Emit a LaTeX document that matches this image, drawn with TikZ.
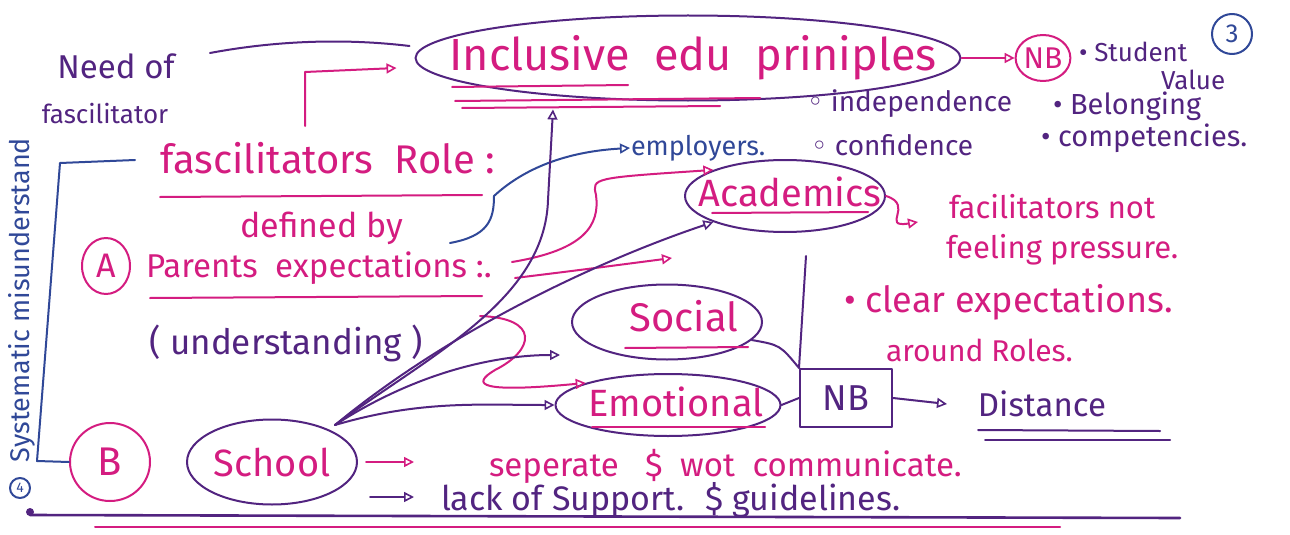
\documentclass[tikz,border=0pt]{standalone}
\usepackage{fontspec}
\setmainfont{Fira Sans}
\newfontfamily\symfont{DejaVu Sans}
\usetikzlibrary{arrows.meta,shapes.geometric}
\definecolor{pen}{RGB}{212,28,128}
\definecolor{ink}{RGB}{82,36,128}
\definecolor{blu}{RGB}{48,72,152}
\newcommand\fsz[1]{\fontsize{#1}{#1}\selectfont}
\newcommand\hollow{{\symfont ◦}}
\begin{document}
\begin{tikzpicture}[x=1pt,y=-1pt, line width=2pt, line cap=round, line join=round,
  tip/.style={-{Triangle[open,length=10pt,width=10pt,line width=1.6pt]}},
  hand/.style={inner sep=0pt},
  oval/.style={ellipse, draw=ink, inner sep=0pt},
  ring/.style={ellipse, draw=pen, text=pen, inner sep=0pt},
]
\fill[white] (0,0) rectangle (1290,535);
\useasboundingbox (0,0) rectangle (1290,535);

% ---------- top row ----------
\node[hand, ink, font=\fsz{33}] (need) at (116,66) {Need of};
\node[hand, ink, font=\fsz{26}] (fasc) at (105,114) {fascilitator};
\node[oval, minimum width=545pt, minimum height=85pt] (incl) at (688,58) {};
\node[hand, pen, font=\fsz{45}] (incltxt) at (693,58) {Inclusive \ edu \ priniples};
\draw[pen] (452,87) -- (628,85);
\draw[pen] (455,101) -- (760,98);
\draw[pen] (462,108) -- (720,106);

\node[ring, font=\fsz{30}, minimum width=50pt, minimum height=46pt] (nb) at (1043,58) {NB};
\node[circle, draw=blu, text=blu, inner sep=0pt, minimum size=40pt, font=\fsz{26}] (three) at (1232,34) {3};
\node[hand, ink, font=\fsz{26}, anchor=west] (stud) at (1078,52) {• Student};
\node[hand, ink, font=\fsz{26}, anchor=west] (val) at (1160,80) {Value};
\node[hand, ink, font=\fsz{29}, anchor=west] (bel) at (1052,106) {• Belonging};
\node[hand, ink, font=\fsz{29}, anchor=west] (comp) at (1040,138) {• competencies.};
\node[hand, ink, font=\fsz{28}, anchor=west] (indep) at (806,104) {\hollow\ independence};
\node[hand, ink, font=\fsz{28}, anchor=west] (conf) at (810,145) {\hollow\ confidence};
\node[hand, blu, font=\fsz{27}, anchor=west] (emp) at (630,148) {employers.};

\coordinate (n1) at (210,53);
\draw[ink] (n1) .. controls (290,38) and (360,40) .. ([xshift=-5pt,yshift=12pt]incl.west);
\draw[pen, tip] (incl.east) -- (nb.west);

% ---------- facilitators role ----------
\node[hand, pen, font=\fsz{40}] (role) at (328,158) {fascilitators \ Role :};
\draw[pen] (160,197) -- (482,195);
\draw[pen, tip] (305,126) -- (305,72) -- ([xshift=-18pt,yshift=-10pt]incl.west);

\node[hand, pen, font=\fsz{34}] (def) at (322,228) {defined by};
\node[ring, font=\fsz{34}, minimum width=48pt, minimum height=56pt] (A) at (106,266) {A};
\node[hand, pen, font=\fsz{33}, anchor=west] (par) at (145,268) {Parents \ expectations :.};
\draw[pen] (150,298) -- (482,296);
\node[hand, ink, font=\fsz{35}] (und) at (286,343) {( understanding )};

% ---------- blue bracket ----------
\node[hand, blu, font=\fsz{27}, rotate=90] (sys) at (22,300) {Systematic misunderstand};
\node[circle, draw=blu, text=blu, inner sep=0pt, minimum size=20pt, font=\fsz{14}] (four) at (20,488) {4};

% ---------- B / School ----------
\node[ring, font=\fsz{40}, minimum width=80pt, minimum height=78pt] (B) at (110,462) {B};
\node[oval, minimum width=170pt, minimum height=85pt] (school) at (272,462) {};
\node[hand, pen, font=\fsz{38}] (schooltxt) at (272,462) {School};
\draw[blu] (135,160) -- (60,163) -- (37,461) -- (B.west);

\coordinate (sepA) at (414,462);
\node[hand, pen, font=\fsz{33}, anchor=west] (sep) at (488,466) {seperate \ \ \$ \ wot \ communicate.};
\draw[pen, tip] ([xshift=8pt]school.east) -- (sepA);
\coordinate (lackA) at (370,497);
\coordinate (lackB) at (414,497);
\node[hand, ink, font=\fsz{34}, anchor=west] (lack) at (440,500) {lack of Support. \ \$ guidelines.};
\draw[ink, tip] (lackA) -- (lackB);

% ---------- topic ovals ----------
\node[oval, minimum width=200pt, minimum height=72pt] (acad) at (785,196) {};
\node[hand, pen, font=\fsz{38}] (acadtxt) at (790,192) {Academics};
\draw[pen] (712,213) -- (868,212);
\node[oval, minimum width=190pt, minimum height=75pt] (soc) at (667,322) {};
\node[hand, pen, font=\fsz{40}] (soctxt) at (684,316) {Social};
\draw[pen] (625,348) -- (748,347);
\node[oval, minimum width=225pt, minimum height=62pt] (emo) at (668,405) {};
\node[hand, pen, font=\fsz{38}] (emotxt) at (676,402) {Emotional};
\draw[pen] (592,427) -- (765,427);

\node[draw=ink, text=ink, inner sep=0pt, minimum width=92pt, minimum height=58pt, font=\fsz{36}] (nbb) at (846,398) {NB};
\node[hand, ink, font=\fsz{33}] (dist) at (1042,404) {Distance};
\draw[ink] (978,430) -- (1160,431);
\draw[ink] (985,440) -- (1170,440);
\draw[ink, tip] (nbb.east) -- ([xshift=-30pt]dist.west);

\coordinate (v0) at (806,256);
\draw[ink] (v0) -- (nbb.north west);
\draw[ink] (soc.-12) .. controls (780,345) .. (nbb.north west);
\draw[ink] (emo.east) -- (nbb.west);

% ---------- facilitators note ----------
\node[hand, pen, font=\fsz{31}, anchor=west] (fac1) at (948,207) {facilitators not};
\node[hand, pen, font=\fsz{31}, anchor=west] (fac2) at (945,250) {feeling pressure.};
\node[hand, pen, font=\fsz{36}, anchor=west] (clear) at (843,302) {• clear expectations.};
\node[hand, pen, font=\fsz{30}, anchor=west] (round) at (885,350) {around Roles.};
\coordinate (ft) at (918,222);
\draw[pen, tip] (acad.east) .. controls (915,205) and (880,228) .. (ft);

% ---------- connectors ----------
\coordinate (b0) at (450,243);
\draw[blu, tip] (b0) .. controls (488,236) and (494,220) .. (494,196) .. controls (520,172) and (560,152) .. (emp.west);

\coordinate (p0) at (512,262);
\draw[pen, tip] (p0) .. controls (585,250) and (600,225) .. (596,195) .. controls (592,178) .. (acad.160);
\coordinate (p1) at (515,278);
\coordinate (pt1) at (672,258);
\draw[pen, tip] (p1) .. controls (580,270) .. (pt1);
\coordinate (p2) at (480,316);
\draw[pen, tip] (p2) .. controls (540,318) and (535,350) .. (495,370) .. controls (470,385) and (480,393) .. (emo.165);

\coordinate (s0) at (335,425);
\draw[ink, tip] (s0) .. controls (430,355) and (545,300) .. (548,200) -- ([xshift=-135pt,yshift=-8pt]incl.south);
\draw[ink, tip] (s0) .. controls (450,330) and (600,260) .. (acad.200);
\coordinate (st2) at (560,355);
\draw[ink, tip] (s0) .. controls (420,370) and (500,355) .. (st2);
\draw[ink, tip] (s0) .. controls (420,400) and (480,405) .. (emo.west);

% ---------- base lines ----------
\fill[ink] (30,512) circle (4pt);
\draw[ink, line width=2.6pt] (30,515) -- (1180,518);
\draw[pen] (95,527) -- (1060,527);
\end{tikzpicture}
\end{document}
